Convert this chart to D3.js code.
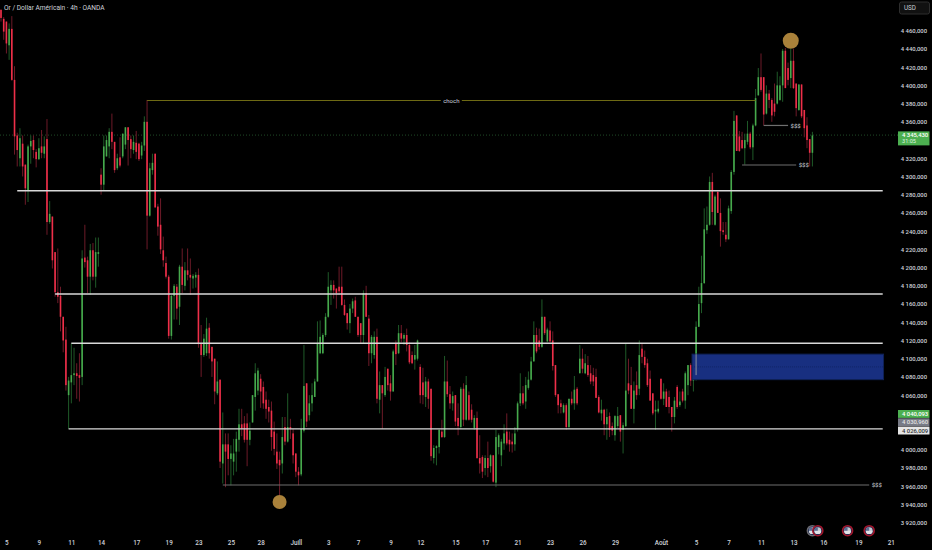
<!DOCTYPE html>
<html>
<head>
<meta charset="utf-8">
<script src="https://cdnjs.cloudflare.com/ajax/libs/d3/7.8.5/d3.min.js"></script>
<style>
  html, body { margin: 0; padding: 0; background: #000; }
  svg { display: block; }
  text { font-family: Roboto, sans-serif; }
</style>
</head>
<body>
<div id="wrapper"></div>
<script>
// 4h candles
const opens = [
  4483,4473,4470,4444,4462,4406,4345,4320,4336,4313,
  4285,4333,4340,4327,4319,4333,4325,4341,4250,4256,
  4217,4173,4169,4146,4121,4060,4074,4082,4084,4082,
  4080,4211,4208,4190,4219,4190,4215,
  4302,4291,4322,4333,4349,4338,4309,4321,4322,4335,4354,4341,4329,4337,4336,4323,4334,4360,4257,4307,4325,4267,4247,4219,4205,4190,4125,4169,4179,4157,4201,4180,4197,4192,4188,4189,4192,
  4116,4104,4106,4134,4113,4100,4062,4077,3985,4006,4006,3990,3987,3998,4011,4028,4029,4029,4011,4030,4058,4065,4078,4069,4055,4047,4043,4020,3998,3989,3985,4025,4009,4025,4018,3996,3976,3973,4021,4073,4038,
  4051,4058,4075,4106,4106,4126,4146,4175,4181,4177,
  4179,4179,4159,4150,4139,4155,4164,4146,4139,4126,
  4172,4144,4106,4104,4124,4055,4071,4060,4089,4073,
  4064,4117,4106,4128,4122,4126,4115,4104,4099,4100,
  4091,4074,4058,4075,4067,3991,4002,4003,4020,4014,
  4075,4061,4051,4060,4035,4025,4067,4033,4060,4044,
  4024,4035,3991,3992,3980,3991,3982,3994,3964,4003,
  3994,4007,4020,4011,4009,4006,4023,4051,4062,4053,
  4068,4077,4097,4126,4120,4113,4146,4119,4131,4120,
  4093,4061,4051,4041,4049,4025,4056,4051,4067,4084,
  4100,4084,4093,4084,4082,4080,4058,4040,4044,4028,
  4037,4026,4016,4026,
  4038,4022,4026,4073,4071,4045,4071,4067,4111,4102,4095,4078,4062,4042,4042,4078,4056,4064,4058,4047,4036,4069,4049,4064,4054,4071,4093,4076,4078,4135,
  4161,4183,4241,4247,4294,4247,4283,4260,4241,4236,4231,4262,
  4305,4367,4344,4340,4331,4338,4347,4332,4356,4389,4409,4409,4369,4391,4384,4380,4380,4384,4400,4438,4419,4408,4427,4402,4373,4401,4373,4356,4341,4326
];
const highs = [
  4483,4475,4470,4468,4476,4421,4348,4353,4345,4313,
  4335,4345,4345,4330,4342,4351,4344,4363,4273,4256,
  4217,4221,4179,4146,4135,4080,4117,4112,4095,4106,
  4219,4247,4212,4226,4227,4233,4233,
  4309,4345,4345,4353,4369,4338,4325,4343,4347,4354,4354,4345,4345,4350,4337,4338,4366,4384,4315,4325,4325,4270,4276,4234,4212,4192,4170,4182,4182,4203,4221,4206,4221,4210,4193,4195,4199,
  4137,4127,4145,4139,4113,4100,4097,4077,4041,4018,4018,4005,4012,4020,4045,4045,4037,4040,4030,4060,4095,4090,4083,4075,4064,4055,4053,4031,4018,3998,4036,4036,4062,4034,4023,3996,3981,4034,4115,4073,4060,
  4073,4078,4141,4142,4128,4150,4195,4186,4186,4177,
  4201,4201,4165,4150,4160,4166,4168,4146,4139,4175,
  4180,4148,4126,4130,4133,4086,4071,4091,4089,4082,
  4110,4120,4137,4137,4128,4133,4118,4108,4115,4121,
  4094,4090,4080,4078,4067,4005,4005,4022,4033,4103,
  4098,4070,4064,4060,4051,4069,4073,4081,4064,4050,
  4038,4042,4016,3994,3994,4009,3995,3994,4022,4018,
  4012,4028,4040,4020,4018,4025,4053,4084,4070,4080,
  4086,4102,4141,4134,4133,4165,4146,4134,4141,4130,
  4093,4061,4055,4051,4051,4056,4064,4081,4069,4115,
  4111,4105,4103,4093,4090,4089,4060,4055,4045,4045,
  4041,4030,4038,4047,
  4038,4030,4117,4100,4091,4075,4086,4120,4117,4109,4100,4087,4062,4054,4054,4078,4073,4067,4065,4047,4058,4071,4064,4067,4086,4093,4095,4092,4141,4179,
  4213,4265,4267,4300,4304,4280,4285,4276,4250,4250,4268,4307,
  4372,4367,4350,4349,4347,4361,4349,4358,4396,4419,4435,4409,4400,4395,4386,4402,4415,4410,4440,4441,4425,4440,4440,4402,4401,4401,4373,4365,4341,4349
];
const lows = [
  4470,4450,4435,4428,4405,4324,4311,4311,4300,4269,
  4272,4314,4320,4310,4318,4320,4320,4236,4248,4199,
  4168,4161,4130,4107,4065,4023,4051,4071,4056,4053,
  4071,4200,4172,4170,4186,4178,4201,
  4280,4285,4322,4320,4330,4304,4307,4310,4320,4330,4312,4320,4325,4319,4317,4319,4328,4220,4256,4302,4266,4235,4215,4201,4188,4122,4121,4143,4143,4137,4172,4175,4186,4170,4177,4178,4112,
  4080,4102,4103,4100,4080,4050,4060,3980,3963,3959,3972,3961,3972,3976,3998,4015,4008,3982,4005,4030,4043,4060,4046,4045,4034,4030,3999,3994,3979,3950,3974,4005,4008,4012,3985,3970,3961,3971,4019,4025,4032,
  4042,4058,4075,4105,4105,4124,4145,4159,4166,4155,
  4170,4158,4147,4132,4128,4150,4146,4124,4117,4117,
  4146,4092,4095,4100,4051,4040,4023,4058,4065,4054,
  4064,4093,4105,4118,4115,4108,4094,4094,4088,4098,
  4051,4050,4047,4045,3988,3985,3983,3996,4013,4013,
  4058,4045,4043,4026,4016,4023,4026,4032,4032,4030,
  4022,3990,3974,3969,3972,3970,3975,3964,3959,3995,
  3982,4000,4005,3998,3997,3999,4020,4048,4049,4045,
  4066,4076,4097,4106,4110,4112,4126,4118,4118,4087,
  4058,4040,4040,4040,4022,4023,4049,4044,4049,4084,
  4084,4083,4080,4072,4070,4057,4040,4032,4016,4011,
  4014,4016,4010,4024,
  4009,3996,4025,4061,4045,4029,4055,4060,4095,4090,4069,4054,4038,4022,4040,4055,4049,4047,4040,4020,4029,4045,4047,4052,4045,4060,4070,4064,4076,4135,
  4150,4182,4237,4246,4247,4246,4260,4223,4236,4228,4231,4259,
  4302,4328,4327,4330,4313,4335,4330,4318,4355,4389,4393,4356,4368,4375,4360,4366,4379,4383,4382,4397,4400,4397,4396,4366,4372,4364,4343,4331,4311,4311
];
const closes = [
  4474,4459,4446,4462,4406,4344,4329,4342,4311,4287,
  4333,4339,4329,4319,4331,4326,4333,4250,4259,4208,
  4173,4168,4146,4120,4071,4076,4082,4084,4081,4079,
  4210,4206,4190,4219,4190,4217,4217,
  4291,4333,4340,4349,4338,4307,4320,4312,4347,4354,4340,4330,4338,4327,4319,4334,4360,4257,4309,4315,4266,4245,4220,4208,4190,4125,4169,4180,4155,4201,4181,4197,4192,4189,4191,4192,4116,
  4104,4122,4133,4106,4097,4064,4075,3987,4006,3998,3990,3996,3996,4012,4028,4023,4011,4011,4021,4060,4084,4087,4064,4051,4045,4042,4014,4001,3985,3983,4014,4009,4025,4023,3994,3976,3972,4023,4070,4031,4051,
  4060,4075,4117,4124,4126,4146,4179,4181,4175,4172,
  4174,4159,4148,4139,4155,4163,4146,4126,4126,4172,
  4146,4106,4124,4124,4056,4071,4062,4080,4071,4064,
  4108,4105,4128,4122,4126,4115,4096,4095,4104,4120,
  4060,4060,4075,4056,3993,4002,4004,4022,4014,4075,
  4061,4051,4059,4031,4026,4067,4033,4071,4033,4033,
  4035,3991,3985,3976,3991,3980,3994,3965,4014,4016,
  4009,4018,4007,4006,4006,4018,4051,4062,4051,4071,
  4077,4097,4126,4108,4113,4146,4128,4132,4119,4092,
  4060,4049,4047,4049,4025,4056,4051,4066,4051,4100,
  4089,4095,4082,4075,4075,4057,4041,4044,4028,4036,
  4022,4021,4037,4037,
  4020,4027,4065,4065,4045,4065,4060,4104,4102,4093,4071,4054,4040,4044,4045,4056,4064,4047,4047,4036,4054,4047,4053,4054,4084,4093,4076,4082,4135,4160,
  4183,4242,4247,4294,4261,4278,4260,4240,4239,4231,4265,4305,
  4361,4328,4328,4331,4340,4347,4332,4356,4386,4409,4395,4368,4391,4384,4367,4371,4400,4400,4438,4397,4406,4427,4397,4375,4401,4366,4353,4340,4326,4345
];

// time axis
const timeTickBars = [2,14,26,37,50,62,73,85,96,109,121,132,144,155,168,179,191,203,215,227,244,257,269,281,293,304,317,329];
const timeTickLabels = ["5","9","11","14","17","19","23","25","28","Juill","3","7","9","12","15","17","21","23","26","29","Août","5","7","11","13","16","19","21"];

// price axis, 4340, 4040 and 4020 sit under the value tags
const priceTicks = [4460,4440,4420,4400,4380,4360,4320,4300,4280,4260,4240,4220,4200,4180,4160,4140,4120,4100,4080,4060,4000,3980,3960,3940,3920];

// drawn levels: price, first bar, last bar
const levelPrices = [4284.4, 4171, 4117, 4023];
const levelStarts = [6, 20, 26, 25];
const levelEnd = 326;
const liquidityPrices = [3961.4, 4356, 4312.6];
const liquidityStarts = [82, 282, 274];
const liquidityEnds = [321, 291, 294];
const liquidityLabels = ["$$$", "$$$", "$$$"];
const chochPrice = 4383.4;
const chochBars = [54, 279];
const zonePrices = [4105, 4077];
const zoneBars = [255.5, 326.3];
const zoneMidPrice = 4091;
const zoneWickBar = 257;
const zoneWickPrices = [4105, 4082];
const markerBars = [292, 103];
const markerPrices = [4449, 3942.7];
const eventBars = [300, 302, 313, 321];

// value tags on the right
const lastPrice = 4345.43;
const tagLabels = ["4 040,093", "4 030,960", "4 026,009"];
const tagFills = ["#4caf50", "#787b86", "#e6e6e6"];
const tagColors = ["#fff", "#e2e2e2", "#333"];

const dimensions = { width: 932, height: 550 };
const smallFont = 5.9;

const svg = d3.select("#wrapper")
  .append("svg")
  .attr("width", dimensions.width)
  .attr("height", dimensions.height);

svg.append("rect")
  .attr("width", dimensions.width)
  .attr("height", dimensions.height)
  .attr("fill", "#000");

const bars = d3.range(opens.length);

const xScale = d3.scaleLinear()
  .domain([0, opens.length - 1])
  .range([1, 812.4]);
const yScale = d3.scaleLinear()
  .domain([4460, 3920])
  .range([30.7, 522.7]);

// last price dotted line
svg.append("line")
  .attr("x1", 0)
  .attr("x2", 898)
  .attr("y1", yScale(lastPrice))
  .attr("y2", yScale(lastPrice))
  .attr("stroke", "#1f4a26")
  .attr("stroke-width", 1)
  .attr("stroke-dasharray", "1 2");

const isUp = (i) => closes[i] >= opens[i];

// candles
svg.append("g").selectAll("line")
  .data(bars)
  .join("line")
  .attr("x1", (i) => xScale(i))
  .attr("x2", (i) => xScale(i))
  .attr("y1", (i) => yScale(highs[i]))
  .attr("y2", (i) => yScale(lows[i]))
  .attr("stroke", (i) => (isUp(i) ? "#1f5a28" : "#6d1a28"))
  .attr("stroke-width", 1);

svg.append("g").selectAll("rect")
  .data(bars)
  .join("rect")
  .attr("x", (i) => xScale(i) - 0.8)
  .attr("width", 1.6)
  .attr("y", (i) => yScale(Math.max(opens[i], closes[i])))
  .attr("height", (i) => Math.max(1, Math.abs(yScale(opens[i]) - yScale(closes[i]))))
  .attr("fill", (i) => (isUp(i) ? "#46a94c" : "#ee2f49"));

// blue zone
svg.append("rect")
  .attr("x", xScale(zoneBars[0]))
  .attr("width", xScale(zoneBars[1]) - xScale(zoneBars[0]))
  .attr("y", yScale(zonePrices[0]))
  .attr("height", yScale(zonePrices[1]) - yScale(zonePrices[0]))
  .attr("fill", "#182f80")
  .attr("stroke", "#0f2257");
svg.append("line")
  .attr("x1", xScale(zoneBars[0]))
  .attr("x2", xScale(zoneBars[1]))
  .attr("y1", yScale(zoneMidPrice))
  .attr("y2", yScale(zoneMidPrice))
  .attr("stroke", "#122566")
  .attr("stroke-dasharray", "1 1");
svg.append("line")
  .attr("x1", xScale(zoneWickBar))
  .attr("x2", xScale(zoneWickBar))
  .attr("y1", yScale(zoneWickPrices[0]))
  .attr("y2", yScale(zoneWickPrices[1]))
  .attr("stroke", "#8a8f9c")
  .attr("stroke-width", 1);

// white levels
svg.append("g").selectAll("line")
  .data(levelPrices)
  .join("line")
  .attr("x1", (d, i) => xScale(levelStarts[i]))
  .attr("x2", xScale(levelEnd))
  .attr("y1", (d) => yScale(d))
  .attr("y2", (d) => yScale(d))
  .attr("stroke", "#d9d9d9")
  .attr("stroke-width", 1.4);

// liquidity lines
const liquidity = svg.append("g");
liquidity.selectAll("line")
  .data(liquidityPrices)
  .join("line")
  .attr("x1", (d, i) => xScale(liquidityStarts[i]))
  .attr("x2", (d, i) => xScale(liquidityEnds[i]))
  .attr("y1", (d) => yScale(d))
  .attr("y2", (d) => yScale(d))
  .attr("stroke", "#6f6f6f")
  .attr("stroke-width", 1.2);
liquidity.selectAll("text")
  .data(liquidityPrices)
  .join("text")
  .attr("x", (d, i) => xScale(liquidityEnds[i]) + 2.5)
  .attr("y", (d) => yScale(d) + 2.2)
  .attr("fill", "#d1d4dc")
  .attr("font-size", 6)
  .text((d, i) => liquidityLabels[i]);

// choch
const chochMid = (xScale(chochBars[0]) + xScale(chochBars[1])) / 2;
svg.append("line")
  .attr("x1", xScale(chochBars[0]))
  .attr("x2", xScale(chochBars[1]))
  .attr("y1", yScale(chochPrice))
  .attr("y2", yScale(chochPrice))
  .attr("stroke", "#6e6a14")
  .attr("stroke-width", 1.1);
svg.append("rect")
  .attr("x", chochMid - 10.5)
  .attr("width", 21)
  .attr("y", yScale(chochPrice) - 5)
  .attr("height", 10)
  .attr("fill", "#000");
svg.append("text")
  .attr("x", chochMid)
  .attr("y", yScale(chochPrice) + 2.2)
  .attr("text-anchor", "middle")
  .attr("fill", "#d1d4dc")
  .attr("font-size", 6)
  .text("choch");

// gold markers
svg.append("g").selectAll("circle")
  .data(markerBars)
  .join("circle")
  .attr("cx", (d) => xScale(d))
  .attr("cy", (d, i) => yScale(markerPrices[i]))
  .attr("r", (d, i) => (i === 0 ? 8 : 7))
  .attr("fill", "#a9813a");

// title
svg.append("text")
  .attr("x", 4)
  .attr("y", 10)
  .attr("fill", "#d1d4dc")
  .attr("font-size", 6.6)
  .text("Or / Dollar Américain · 4h · OANDA");

// price axis
const priceAxis = svg.append("g")
  .attr("transform", "translate(927,0)")
  .call(d3.axisRight(yScale)
    .tickValues(priceTicks)
    .tickSize(0)
    .tickPadding(0)
    .tickFormat((d) => d3.format(",.3f")(d).replace(",", " ").replace(".", ",")));
priceAxis.select(".domain").remove();
priceAxis.selectAll("text")
  .attr("text-anchor", "end")
  .attr("font-family", "Roboto, sans-serif")
  .attr("font-size", smallFont)
  .attr("font-weight", 500)
  .attr("fill", "#d1d4dc");

// time axis
const timeAxis = svg.append("g")
  .attr("transform", "translate(0,538.5)")
  .call(d3.axisBottom(xScale)
    .tickValues(timeTickBars)
    .tickSize(0)
    .tickPadding(2)
    .tickFormat((d, i) => timeTickLabels[i]));
timeAxis.select(".domain").remove();
timeAxis.selectAll("text")
  .attr("font-family", "Roboto, sans-serif")
  .attr("font-size", 6.3)
  .attr("font-weight", 500)
  .attr("fill", "#d1d4dc");

// USD button
svg.append("rect")
  .attr("x", 899.5)
  .attr("y", 2)
  .attr("width", 30)
  .attr("height", 12)
  .attr("rx", 2)
  .attr("fill", "#111")
  .attr("stroke", "#2e2e2e");
svg.append("text")
  .attr("x", 904)
  .attr("y", 10.2)
  .attr("fill", "#c8ccd4")
  .attr("font-size", 6.3)
  .text("USD");

// last price tag
svg.append("rect")
  .attr("x", 898)
  .attr("y", yScale(lastPrice) - 3.7)
  .attr("width", 31.5)
  .attr("height", 14)
  .attr("fill", "#4caf50");
svg.append("text")
  .attr("x", 902)
  .attr("y", yScale(lastPrice) + 1.8)
  .attr("fill", "#fff")
  .attr("font-size", smallFont)
  .attr("font-weight", 500)
  .text("4 345,430");
svg.append("text")
  .attr("x", 902)
  .attr("y", yScale(lastPrice) + 8.4)
  .attr("fill", "#dff2e0")
  .attr("font-size", 5.6)
  .text("31:05");

// stacked value tags
const tags = svg.append("g").selectAll("g")
  .data(tagLabels)
  .join("g")
  .attr("transform", (d, i) => `translate(898,${410 + i * 8.3})`);
tags.append("rect")
  .attr("width", 31.5)
  .attr("height", 7.9)
  .attr("fill", (d, i) => tagFills[i]);
tags.append("text")
  .attr("x", 4)
  .attr("y", 6.1)
  .attr("fill", (d, i) => tagColors[i])
  .attr("font-size", smallFont)
  .attr("font-weight", 500)
  .text((d) => d);

// event flags on the time scale
const flags = svg.append("g").selectAll("g")
  .data(eventBars)
  .join("g")
  .attr("transform", (d) => `translate(${xScale(d)},530.7)`);
flags.append("circle")
  .attr("r", 5)
  .attr("fill", "#1b2b52")
  .attr("stroke", (d, i) => (i === 0 ? "#6a6a72" : "#a3162b"))
  .attr("stroke-width", 1.6);
flags.append("circle")
  .attr("r", 3.4)
  .attr("fill", "#c4c8d0");
flags.append("path")
  .attr("d", d3.arc()({ innerRadius: 0, outerRadius: 3.4, startAngle: Math.PI / 2, endAngle: Math.PI * 1.5 }))
  .attr("fill", "#e0e2e6");
flags.append("path")
  .attr("d", d3.arc()({ innerRadius: 0, outerRadius: 3.4, startAngle: -Math.PI / 2, endAngle: 0 }))
  .attr("fill", "#5b6b92");
</script>
</body>
</html>
